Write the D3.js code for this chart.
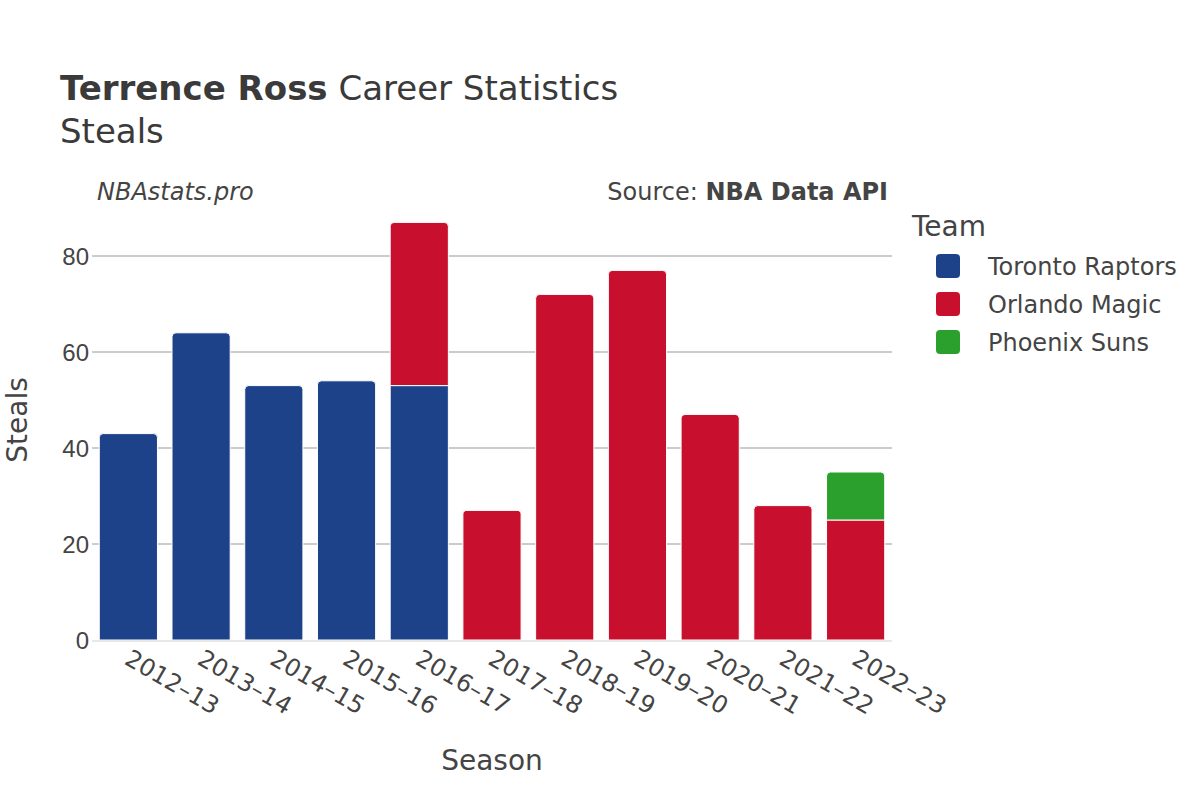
<!DOCTYPE html>
<html>
<head>
<meta charset="utf-8">
<script src="https://cdn.jsdelivr.net/npm/d3@7"></script>
<style>
  body { margin: 0; background: #fff; }
  svg { font-family: "DejaVu Sans", sans-serif; }
</style>
</head>
<body>
<div id="chart"></div>
<script>
// seasons on the x axis
var seasons = ["2012–13", "2013–14", "2014–15", "2015–16", "2016–17", "2017–18",
               "2018–19", "2019–20", "2020–21", "2021–22", "2022–23"];
// teams, in stack order
var teams = ["Toronto Raptors", "Orlando Magic", "Phoenix Suns"];
var teamColors = ["#1d428a", "#c8102e", "#2ca02c"];
// steals per season for each team
var toronto = [43, 64, 53, 54, 53, 0, 0, 0, 0, 0, 0];
var orlando = [0, 0, 0, 0, 34, 27, 72, 77, 47, 28, 25];
var phoenix = [0, 0, 0, 0, 0, 0, 0, 0, 0, 0, 10];
var yTicks = [0, 20, 40, 60, 80];

var W = 1200, H = 800;
var plot = { left: 92, right: 892, top: 208, bottom: 640 };

var svg = d3.select("#chart").append("svg").attr("width", W).attr("height", H);

var x = d3.scaleBand().domain(seasons).range([plot.left, plot.right]).paddingInner(0.2).paddingOuter(0.1);
var y = d3.scaleLinear().domain([0, 90]).range([plot.bottom, plot.top]);
var color = d3.scaleOrdinal().domain(teams).range(teamColors);

// build stack table
var rows = seasons.map(function (s, i) {
  return { season: s, "Toronto Raptors": toronto[i], "Orlando Magic": orlando[i], "Phoenix Suns": phoenix[i] };
});
var stacked = d3.stack().keys(teams)(rows);

// gridlines
svg.append("g").selectAll("line").data(yTicks.slice(1)).enter().append("line")
  .attr("x1", plot.left).attr("x2", plot.right)
  .attr("y1", function (d) { return y(d); }).attr("y2", function (d) { return y(d); })
  .attr("stroke", "#999").attr("stroke-width", 1);

// y axis
var yAxis = d3.axisLeft(y).tickValues(yTicks).tickSize(0).tickPadding(3);
var yG = svg.append("g").attr("transform", "translate(" + plot.left + ",0)").call(yAxis);
yG.select(".domain").remove();
yG.selectAll("text").style("font-size", "24px").attr("fill", "#444").attr("dy", "0.35em");

// top segment of each column gets rounded corners
function topKey(i) {
  var k = -1;
  teams.forEach(function (t, j) { if (rows[i][t] > 0) k = j; });
  return k;
}
function barPath(x0, y0, w, h, r) {
  return "M" + x0 + "," + (y0 + h) + "V" + (y0 + r) + "Q" + x0 + "," + y0 + " " + (x0 + r) + "," + y0 +
    "H" + (x0 + w - r) + "Q" + (x0 + w) + "," + y0 + " " + (x0 + w) + "," + (y0 + r) + "V" + (y0 + h) + "Z";
}

var layers = svg.append("g").selectAll("g").data(stacked).enter().append("g")
  .attr("fill", function (d) { return color(d.key); });
layers.each(function (layer, j) {
  d3.select(this).selectAll("path").data(layer.filter(function (d) { return d[1] - d[0] > 0; }))
    .enter().append("path")
    .attr("d", function (d) {
      var i = seasons.indexOf(d.data.season);
      var r = topKey(i) === j ? 4 : 0;
      var x0 = x(d.data.season), y0 = y(d[1]), h = y(d[0]) - y(d[1]);
      return barPath(x0, y0, x.bandwidth(), h, r);
    })
    .attr("stroke", "#fff").attr("stroke-width", 1);
});

// zero line
svg.append("line").attr("x1", plot.left).attr("x2", plot.right)
  .attr("y1", y(0) + 1).attr("y2", y(0) + 1).attr("stroke", "#e8e8e8").attr("stroke-width", 2);

// x tick labels, rotated
svg.append("g").selectAll("text").data(seasons).enter().append("text")
  .attr("transform", function (d) {
    return "translate(" + (x(d) + x.bandwidth() / 2 - 1) + "," + 656 + ") rotate(30)";
  })
  .attr("text-anchor", "start").attr("dy", "0.35em")
  .style("font-size", "24px").attr("fill", "#444")
  .text(function (d) { return d; });

// axis titles
svg.append("text").attr("x", 492).attr("y", 770).attr("text-anchor", "middle")
  .style("font-size", "28px").attr("fill", "#444").text("Season");
svg.append("text").attr("transform", "translate(17," + 420 + ") rotate(-90)")
  .attr("text-anchor", "middle").attr("dy", "0.35em")
  .style("font-size", "28px").attr("fill", "#444").text("Steals");

// title
var title = svg.append("text").attr("x", 60).attr("y", 100).style("font-size", "34px").attr("fill", "#3a3a3a");
title.append("tspan").style("font-weight", "bold").text("Terrence Ross");
title.append("tspan").text(" Career Statistics");
svg.append("text").attr("x", 60).attr("y", 143).style("font-size", "34px").attr("fill", "#3a3a3a").text("Steals");

// annotations
svg.append("text").attr("x", 97).attr("y", 200).style("font-size", "24px").style("font-style", "italic")
  .attr("fill", "#444").text("NBAstats.pro");
var src = svg.append("text").attr("x", 888).attr("y", 200).attr("text-anchor", "end")
  .style("font-size", "24px").attr("fill", "#444");
src.append("tspan").text("Source: ");
src.append("tspan").style("font-weight", "bold").text("NBA Data API");

// legend
svg.append("text").attr("x", 912).attr("y", 236).style("font-size", "28px").attr("fill", "#444").text("Team");
var leg = svg.append("g").selectAll("g").data(teams).enter().append("g")
  .attr("transform", function (d, i) { return "translate(0," + (266 + i * 38) + ")"; });
leg.append("rect").attr("x", 936).attr("y", -12).attr("width", 24).attr("height", 24).attr("rx", 4)
  .attr("fill", function (d) { return color(d); });
leg.append("text").attr("x", 988).attr("y", 1).attr("dy", "0.35em").style("font-size", "24px").attr("fill", "#444")
  .text(function (d) { return d; });
</script>
</body>
</html>
